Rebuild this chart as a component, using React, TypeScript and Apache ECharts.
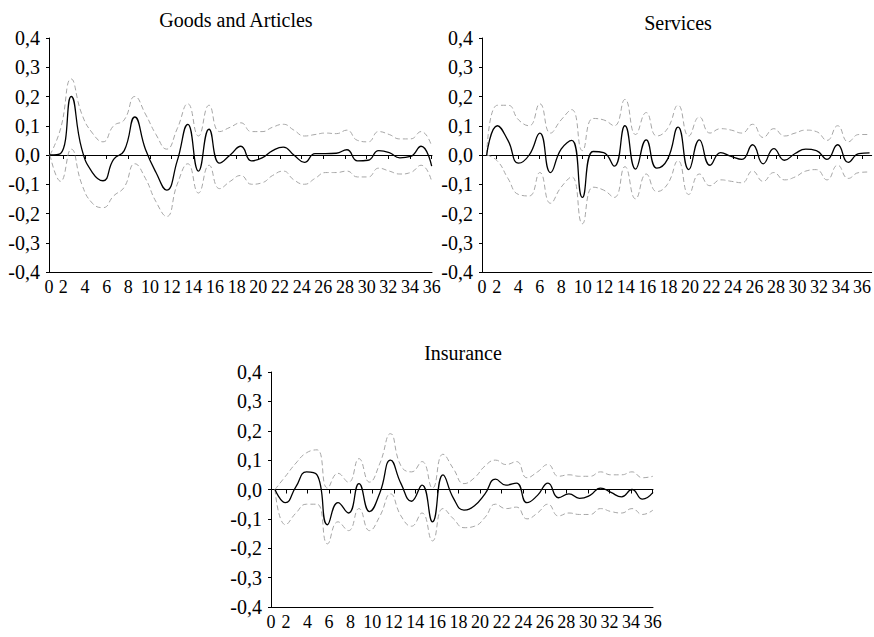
import React, { useEffect, useRef } from "react";
import * as echarts from "echarts";

// Horizon (periods) of the impulse responses
const periods = [0, 1, 2, 3, 4, 5, 6, 7, 8, 9, 10, 11, 12, 13, 14, 15, 16, 17, 18, 19, 20, 21, 22, 23, 24, 25, 26, 27, 28, 29, 30, 31, 32, 33, 34, 35, 36];
const xTickValues = [2, 4, 6, 8, 10, 12, 14, 16, 18, 20, 22, 24, 26, 28, 30, 32, 34, 36];

const panelTitles = ["Goods and Articles", "Services", "Insurance"];

// Goods and Articles
const goodsIrf = [0, 0.005, 0.2, 0.02, -0.06, -0.088, -0.015, 0.015, 0.13, 0.02, -0.06, -0.12, -0.02, 0.105, -0.055, 0.088, -0.028, 0.0, 0.03, -0.02, -0.01, 0.015, 0.027, 0.0, -0.025, 0.005, 0.005, 0.006, 0.018, -0.02, -0.018, 0.015, 0.008, -0.01, -0.005, 0.03, -0.038];
const goodsUpper = [0, 0.09, 0.26, 0.14, 0.075, 0.045, 0.1, 0.12, 0.2, 0.14, 0.07, 0.02, 0.09, 0.175, 0.065, 0.17, 0.08, 0.095, 0.11, 0.08, 0.08, 0.095, 0.105, 0.085, 0.065, 0.07, 0.075, 0.073, 0.085, 0.05, 0.045, 0.08, 0.07, 0.055, 0.055, 0.08, 0.03];
const goodsLower = [0, -0.09, 0.02, -0.1, -0.165, -0.18, -0.14, -0.11, -0.03, -0.08, -0.16, -0.21, -0.1, -0.03, -0.13, -0.035, -0.115, -0.09, -0.07, -0.1, -0.095, -0.07, -0.055, -0.085, -0.1, -0.08, -0.06, -0.06, -0.055, -0.075, -0.075, -0.045, -0.055, -0.065, -0.06, -0.035, -0.09];

// Services
const servicesIrf = [0, 0.1, 0.05, -0.028, 0.0, 0.075, -0.06, 0.02, 0.05, -0.145, 0.012, 0.008, -0.038, 0.1, -0.048, 0.052, -0.045, -0.015, 0.095, -0.05, 0.052, -0.035, 0.008, -0.005, -0.015, 0.035, -0.03, 0.022, -0.018, 0.005, 0.02, 0.015, -0.015, 0.035, -0.025, 0.005, 0.007];
const servicesUpper = [0, 0.17, 0.17, 0.12, 0.1, 0.175, 0.075, 0.12, 0.155, 0.015, 0.125, 0.12, 0.1, 0.19, 0.07, 0.145, 0.065, 0.09, 0.17, 0.065, 0.13, 0.075, 0.09, 0.085, 0.075, 0.105, 0.06, 0.09, 0.065, 0.075, 0.085, 0.08, 0.05, 0.1, 0.045, 0.07, 0.07];
const servicesLower = [0, -0.02, -0.08, -0.135, -0.14, -0.06, -0.165, -0.11, -0.075, -0.235, -0.11, -0.12, -0.145, -0.04, -0.15, -0.065, -0.125, -0.1, -0.02, -0.135, -0.065, -0.105, -0.085, -0.09, -0.095, -0.055, -0.09, -0.06, -0.085, -0.075, -0.055, -0.05, -0.085, -0.035, -0.08, -0.06, -0.058];

// Insurance
const insuranceIrf = [0, -0.045, 0.01, 0.06, 0.05, -0.12, -0.045, -0.08, 0.02, -0.075, -0.01, 0.1, 0.02, -0.04, 0.015, -0.11, 0.05, -0.03, -0.07, -0.055, -0.015, 0.035, 0.015, 0.022, -0.045, -0.02, 0.022, -0.028, -0.015, -0.03, -0.02, 0.005, -0.01, -0.025, 0.0, -0.033, -0.01];
const insuranceUpper = [0, 0.045, 0.09, 0.125, 0.135, 0.005, 0.055, 0.025, 0.105, 0.025, 0.09, 0.19, 0.08, 0.06, 0.095, 0.005, 0.12, 0.07, 0.02, 0.04, 0.08, 0.1, 0.085, 0.095, 0.04, 0.06, 0.085, 0.045, 0.05, 0.045, 0.045, 0.06, 0.05, 0.05, 0.06, 0.04, 0.045];
const insuranceLower = [0, -0.12, -0.08, -0.05, -0.05, -0.185, -0.11, -0.14, -0.065, -0.14, -0.09, -0.015, -0.09, -0.125, -0.08, -0.175, -0.065, -0.1, -0.13, -0.125, -0.095, -0.05, -0.065, -0.06, -0.1, -0.08, -0.05, -0.09, -0.08, -0.085, -0.085, -0.065, -0.075, -0.08, -0.065, -0.085, -0.07];

const panelData = [
  [goodsIrf, goodsUpper, goodsLower],
  [servicesIrf, servicesUpper, servicesLower],
  [insuranceIrf, insuranceUpper, insuranceLower],
];

const FONT = "Liberation Serif";

// layout (pixels)
const grids = [
  { left: 49, top: 38, width: 383, height: 234 },
  { left: 482, top: 38, width: 392, height: 234 },
  { left: 271, top: 372, width: 382, height: 235 },
];
const dataRange = [
  [-0.094, 36.03],
  [-0.44, 36.2],
  [-0.38, 36.0],
];
const labelRange = [
  [0.68, 36.03],
  [0.63, 36.9],
  [0.62, 36.03],
];
const titlePos = [
  [236, 20],
  [678, 23],
  [463, 353],
];

function fmtY(v: number) {
  const s = Math.abs(v) < 1e-9 ? "0,0" : v.toFixed(1).replace(".", ",");
  return "{t|" + s + "}";
}
function fmtX(v: number) {
  return "{t|" + (v < 1 ? "0" : String(Math.round(v))) + "}";
}

export default function App() {
  const ref = useRef<HTMLDivElement>(null);
  useEffect(() => {
    if (!ref.current) return;
    const chart = echarts.init(ref.current, undefined, { renderer: "svg" });
    const xAxis: any[] = [];
    const yAxis: any[] = [];
    const series: any[] = [];
    const graphic: any[] = [];
    for (let i = 0; i < 3; i++) {
      const [lmin, lmax] = labelRange[i];
      // data axis (hidden)
      xAxis.push({
        gridIndex: i,
        type: "value",
        min: dataRange[i][0],
        max: dataRange[i][1],
        show: false,
      });
      // label axis (bottom)
      xAxis.push({
        gridIndex: i,
        type: "value",
        position: "bottom",
        min: lmin,
        max: lmax,
        axisLine: { show: true, onZero: false, lineStyle: { color: "#000", width: 1 } },
        axisTick: { show: false },
        splitLine: { show: false },
        axisLabel: {
          customValues: [lmin, ...xTickValues],
          formatter: fmtX,
          fontFamily: FONT,
          fontSize: 18,
          color: "#000",
          margin: 6,
          rich: { t: { fontFamily: FONT, fontSize: 18, color: "#000" } },
        },
      });
      // zero line axis with ticks
      xAxis.push({
        gridIndex: i,
        type: "value",
        position: "bottom",
        min: lmin,
        max: lmax,
        axisLine: { show: true, onZero: true, onZeroAxisIndex: i, lineStyle: { color: "#000", width: 1 } },
        axisTick: { show: true, customValues: xTickValues, length: 4, lineStyle: { color: "#000", width: 1 } },
        axisLabel: { show: false },
        splitLine: { show: false },
      });
      yAxis.push({
        gridIndex: i,
        type: "value",
        min: -0.4,
        max: 0.4,
        interval: 0.1,
        axisLine: { show: true, onZero: false, lineStyle: { color: "#000", width: 1 } },
        axisTick: { show: true, length: 3, lineStyle: { color: "#000", width: 1 } },
        splitLine: { show: false },
        axisLabel: {
          formatter: fmtY,
          fontFamily: FONT,
          fontSize: 20,
          color: "#000",
          margin: 9,
          rich: { t: { fontFamily: FONT, fontSize: 20, color: "#000" } },
        },
      });
      const [irf, up, lo] = panelData[i];
      const dashed = { color: "#a6a6a6", width: 1, type: [5, 3] };
      series.push({
        type: "line",
        xAxisIndex: 3 * i,
        yAxisIndex: i,
        data: periods.map((p, k) => [p, up[k]]),
        smooth: true,
        symbol: "none",
        lineStyle: dashed,
        z: 2,
      });
      series.push({
        type: "line",
        xAxisIndex: 3 * i,
        yAxisIndex: i,
        data: periods.map((p, k) => [p, lo[k]]),
        smooth: true,
        symbol: "none",
        lineStyle: dashed,
        z: 2,
      });
      series.push({
        type: "line",
        xAxisIndex: 3 * i,
        yAxisIndex: i,
        data: periods.map((p, k) => [p, irf[k]]),
        smooth: true,
        symbol: "none",
        lineStyle: { color: "#000", width: 1.3 },
        z: 3,
      });
      graphic.push({
        type: "text",
        x: titlePos[i][0],
        y: titlePos[i][1],
        style: {
          text: panelTitles[i],
          align: "center",
          verticalAlign: "middle",
          fontFamily: FONT,
          fontSize: 20,
          fill: "#000",
        },
      });
    }
    chart.setOption({
      animation: false,
      backgroundColor: "#fff",
      textStyle: { fontFamily: FONT },
      grid: grids,
      xAxis,
      yAxis,
      series,
      graphic,
    });
    return () => chart.dispose();
  }, []);
  return (
    <div
      ref={ref}
      style={{ position: "absolute", left: 0, top: 0, width: 874, height: 637, background: "#fff" }}
    />
  );
}
